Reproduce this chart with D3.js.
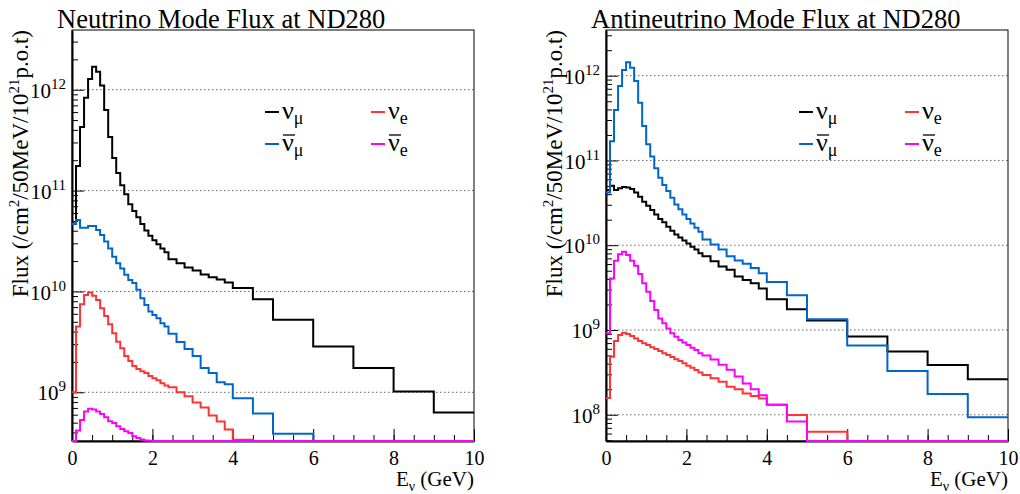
<!DOCTYPE html>
<html><head><meta charset="utf-8">
<script src="https://cdn.jsdelivr.net/npm/d3@7"></script>
<style>
body{margin:0;background:#fff}
svg{display:block}
text{font-family:"Liberation Serif","Times New Roman",serif;fill:#000}
</style></head><body>
<svg id="c" width="1020" height="494"></svg>
<script>
// Bin edges (GeV)
const binEdges = [0,0.1,0.2,0.3,0.4,0.5,0.6,0.7,0.8,0.9,1.0,1.1,1.2,1.3,1.4,1.5,1.6,1.7,1.8,1.9,2.0,2.1,2.2,2.3,2.4,2.6,2.8,3.0,3.2,3.4,3.6,3.8,4.0,4.5,5,6,7,8,9,10];
const xTickValues = [0,2,4,6,8,10];
const xMinorTickValues = d3.range(0, 10.01, 0.5);

// Neutrino mode
const nmNumu = [4.73e10,1.75e11,4.27e11,8.34e11,1.28e12,1.69e12,1.51e12,1.10e12,6.28e11,3.40e11,2.10e11,1.49e11,1.13e11,9.18e10,7.31e10,6.27e10,5.43e10,4.67e10,4.01e10,3.57e10,3.21e10,2.93e10,2.67e10,2.44e10,2.08e10,1.90e10,1.73e10,1.61e10,1.47e10,1.38e10,1.31e10,1.23e10,1.08e10,8.39e9,5.24e9,2.85e9,1.74e9,1.02e9,6.32e8];
const nmNumubar = [4.67e10,5.11e10,4.29e10,4.29e10,4.46e10,4.46e10,4.06e10,3.63e10,3.12e10,2.67e10,2.21e10,1.90e10,1.69e10,1.46e10,1.30e10,1.21e10,1.04e10,8.55e9,7.35e9,6.31e9,5.85e9,5.42e9,4.83e9,4.48e9,3.80e9,3.16e9,2.69e9,2.29e9,1.74e9,1.55e9,1.26e9,1.20e9,8.71e8,6.17e8,3.89e8,0,0,0,0];
const nmNue = [1.00e9,4.48e9,7.46e9,9.23e9,9.79e9,9.08e9,8.22e9,6.81e9,5.71e9,4.72e9,3.85e9,3.18e9,2.73e9,2.29e9,2.04e9,1.82e9,1.70e9,1.62e9,1.55e9,1.45e9,1.38e9,1.32e9,1.23e9,1.17e9,1.12e9,1.00e9,9.12e8,7.94e8,7.08e8,5.89e8,5.13e8,4.27e8,3.39e8,0,0,0,0,0,0];
const nmNuebar = [0,4.17e8,5.31e8,6.47e8,6.87e8,6.76e8,6.46e8,6.10e8,5.65e8,5.15e8,4.97e8,4.60e8,4.33e8,4.10e8,3.95e8,3.66e8,3.52e8,3.40e8,3.33e8,3.30e8,0,0,0,0,0,0,0,0,0,0,0,0,0,0,0,0,0,0,0];

// Antineutrino mode
const amNumu = [4.48e10,5.04e10,4.48e10,4.69e10,4.85e10,4.81e10,4.60e10,4.20e10,3.73e10,3.26e10,2.92e10,2.60e10,2.31e10,2.04e10,1.86e10,1.65e10,1.48e10,1.34e10,1.23e10,1.14e10,1.05e10,9.59e9,8.93e9,8.02e9,7.41e9,6.46e9,5.62e9,5.13e9,4.27e9,3.89e9,3.55e9,3.09e9,2.31e9,1.76e9,1.29e9,8.36e8,5.56e8,3.87e8,2.62e8];
const amNumubar = [4.20e10,1.69e11,3.94e11,7.55e11,1.17e12,1.44e12,1.24e12,8.65e11,4.80e11,2.55e11,1.55e11,1.11e11,8.07e10,6.25e10,5.13e10,4.36e10,3.63e10,3.03e10,2.65e10,2.31e10,2.04e10,1.81e10,1.61e10,1.44e10,1.17e10,1.02e10,8.91e9,7.41e9,6.61e9,6.03e9,5.37e9,4.68e9,3.67e9,2.57e9,1.34e9,6.55e8,3.29e8,1.76e8,9.33e7];
const amNue = [1.58e8,4.83e8,7.40e8,8.71e8,9.29e8,8.95e8,8.47e8,7.96e8,7.40e8,6.95e8,6.64e8,6.24e8,5.96e8,5.64e8,5.30e8,5.06e8,4.79e8,4.50e8,4.30e8,4.04e8,3.78e8,3.59e8,3.37e8,3.16e8,2.95e8,2.69e8,2.45e8,2.14e8,2.00e8,1.78e8,1.66e8,1.55e8,1.31e8,9.95e7,6.31e7,0,0,0,0];
const amNuebar = [9.12e8,4.06e9,6.56e9,7.80e9,8.37e9,7.66e9,6.56e9,5.73e9,4.57e9,3.55e9,2.82e9,2.19e9,1.72e9,1.37e9,1.20e9,1.04e9,9.12e8,8.32e8,7.60e8,7.13e8,6.65e8,6.17e8,5.79e8,5.30e8,5.01e8,4.47e8,3.89e8,3.39e8,2.82e8,2.34e8,2.00e8,1.70e8,1.31e8,8.32e7,0,0,0,0,0];

const titles = ["Neutrino Mode Flux at ND280", "Antineutrino Mode Flux at ND280"];
const yDomains = [[3.29e8, 3.91e12], [4.90e7, 3.46e12]];
const flavourColors = ["#000000", "#0066cc", "#ff3333", "#ff00ff"];

const svg = d3.select("#c");
const W = 1020, H = 494;
svg.append("rect").attr("width", W).attr("height", H).attr("fill", "#fff");

const panels = [
  {x0: 72, x1: 474, y0: 30, y1: 441, dom: yDomains[0], title: titles[0], series: [nmNumu, nmNumubar, nmNue, nmNuebar]},
  {x0: 606, x1: 1008, y0: 30, y1: 441, dom: yDomains[1], title: titles[1], series: [amNumu, amNumubar, amNue, amNuebar]}
];

panels.forEach(p => {
  const g = svg.append("g");
  const x = d3.scaleLinear().domain([0, 10]).range([p.x0, p.x1]);
  const y = d3.scaleLog().domain(p.dom).range([p.y1, p.y0]);
  const lo = Math.ceil(Math.log10(p.dom[0])), hi = Math.floor(Math.log10(p.dom[1]));
  const decades = d3.range(lo, hi + 1).map(e => Math.pow(10, e));
  const minors = [];
  for (let e = lo - 1; e <= hi; e++) for (let m = 2; m <= 9; m++) {
    const v = m * Math.pow(10, e);
    if (v >= p.dom[0] && v <= p.dom[1]) minors.push(v);
  }

  // grid
  g.append("g").selectAll("line").data(decades).join("line")
    .attr("x1", p.x0).attr("x2", p.x1)
    .attr("y1", d => y(d)).attr("y2", d => y(d))
    .attr("stroke", "#666").attr("stroke-width", 1).attr("stroke-dasharray", "1.5,2.5");

  // frame
  g.append("rect").attr("x", p.x0).attr("y", p.y0).attr("width", p.x1 - p.x0).attr("height", p.y1 - p.y0)
    .attr("fill", "none").attr("stroke", "#000").attr("stroke-width", 1);

  // x axes
  const xMajor = d3.axisBottom(x).tickValues(xTickValues).tickSizeInner(-12).tickSizeOuter(0).tickPadding(10).tickFormat(d3.format("d"));
  const gx = g.append("g").attr("transform", `translate(0,${p.y1})`).call(xMajor);
  gx.select(".domain").attr("stroke", "#000").attr("stroke-width", 2);
  gx.selectAll("text").attr("font-size", 20).attr("font-family", "Liberation Serif").attr("fill", "#000");
  const xMinor = d3.axisBottom(x).tickValues(xMinorTickValues).tickSizeInner(-6).tickSizeOuter(0).tickFormat("");
  const gxm = g.append("g").attr("transform", `translate(0,${p.y1})`).call(xMinor);
  gxm.select(".domain").remove();

  // y axes
  const yMajor = d3.axisLeft(y).tickValues(decades).tickSizeInner(-12).tickSizeOuter(0).tickPadding(6);
  const gy = g.append("g").attr("transform", `translate(${p.x0},0)`).call(yMajor);
  gy.select(".domain").attr("stroke", "#000").attr("stroke-width", 2);
  gy.selectAll(".tick text").each(function(d) {
    const t = d3.select(this).text("").attr("font-size", 21).attr("font-family", "Liberation Serif").attr("fill", "#000").attr("dy", "0.36em");
    t.append("tspan").text("10");
    t.append("tspan").attr("font-size", 15).attr("dy", -9).text(String(Math.round(Math.log10(d))));
  });
  const yMinor = d3.axisLeft(y).tickValues(minors).tickSizeInner(-6).tickSizeOuter(0).tickFormat("");
  const gym = g.append("g").attr("transform", `translate(${p.x0},0)`).call(yMinor);
  gym.select(".domain").remove();

  // histograms
  const ymin = p.dom[0];
  const line = d3.line().x(d => x(d[0])).y(d => y(Math.max(d[1], ymin))).curve(d3.curveStepAfter);
  p.series.forEach((vals, k) => {
    const pts = vals.map((v, i) => [binEdges[i], v]);
    pts.push([binEdges[binEdges.length - 1], vals[vals.length - 1]]);
    g.append("path").datum(pts).attr("d", line)
      .attr("fill", "none").attr("stroke", flavourColors[k]).attr("stroke-width", 2)
      .attr("stroke-linejoin", "miter");
  });

  // title
  g.append("text").attr("x", p.x0 - 15).attr("y", 28).attr("font-size", 26.5).text(p.title);

  // y title
  const yt = g.append("text").attr("transform", `translate(${p.x0 - 44},${p.y0}) rotate(-90)`)
    .attr("text-anchor", "end").attr("font-size", 23);
  yt.append("tspan").text("Flux (/cm");
  yt.append("tspan").attr("font-size", 15).attr("dy", -9).text("2");
  yt.append("tspan").attr("dy", 9).text("/50MeV/10");
  yt.append("tspan").attr("font-size", 15).attr("dy", -9).text("21");
  yt.append("tspan").attr("dy", 9).text("p.o.t)");

  // x title
  const xt = g.append("text").attr("x", p.x1).attr("y", p.y1 + 45).attr("text-anchor", "end").attr("font-size", 21);
  xt.append("tspan").text("E");
  xt.append("tspan").attr("font-size", 14).attr("dy", 5).text("ν");
  xt.append("tspan").attr("dy", -5).text(" (GeV)");

  // legend
  const lx = p.x0 + 193;
  const legendEntries = [
    {c: flavourColors[0], col: 0, row: 0, sub: "μ", bar: false},
    {c: flavourColors[2], col: 1, row: 0, sub: "e", bar: false},
    {c: flavourColors[1], col: 0, row: 1, sub: "μ", bar: true},
    {c: flavourColors[3], col: 1, row: 1, sub: "e", bar: true}
  ];
  legendEntries.forEach(e => {
    const ex = lx + e.col * 106, ey = 112 + e.row * 32;
    g.append("line").attr("x1", ex).attr("x2", ex + 14).attr("y1", ey).attr("y2", ey)
      .attr("stroke", e.c).attr("stroke-width", 2);
    const t = g.append("text").attr("x", ex + 17).attr("y", ey + 7).attr("font-size", 26);
    t.append("tspan").text("ν");
    t.append("tspan").attr("font-size", 18).attr("dy", 5).text(e.sub);
    if (e.bar) {
      g.append("line").attr("x1", ex + 18).attr("x2", ex + 30).attr("y1", ey - 9).attr("y2", ey - 9)
        .attr("stroke", "#000").attr("stroke-width", 1.3);
    }
  });
});
</script>
</body></html>
